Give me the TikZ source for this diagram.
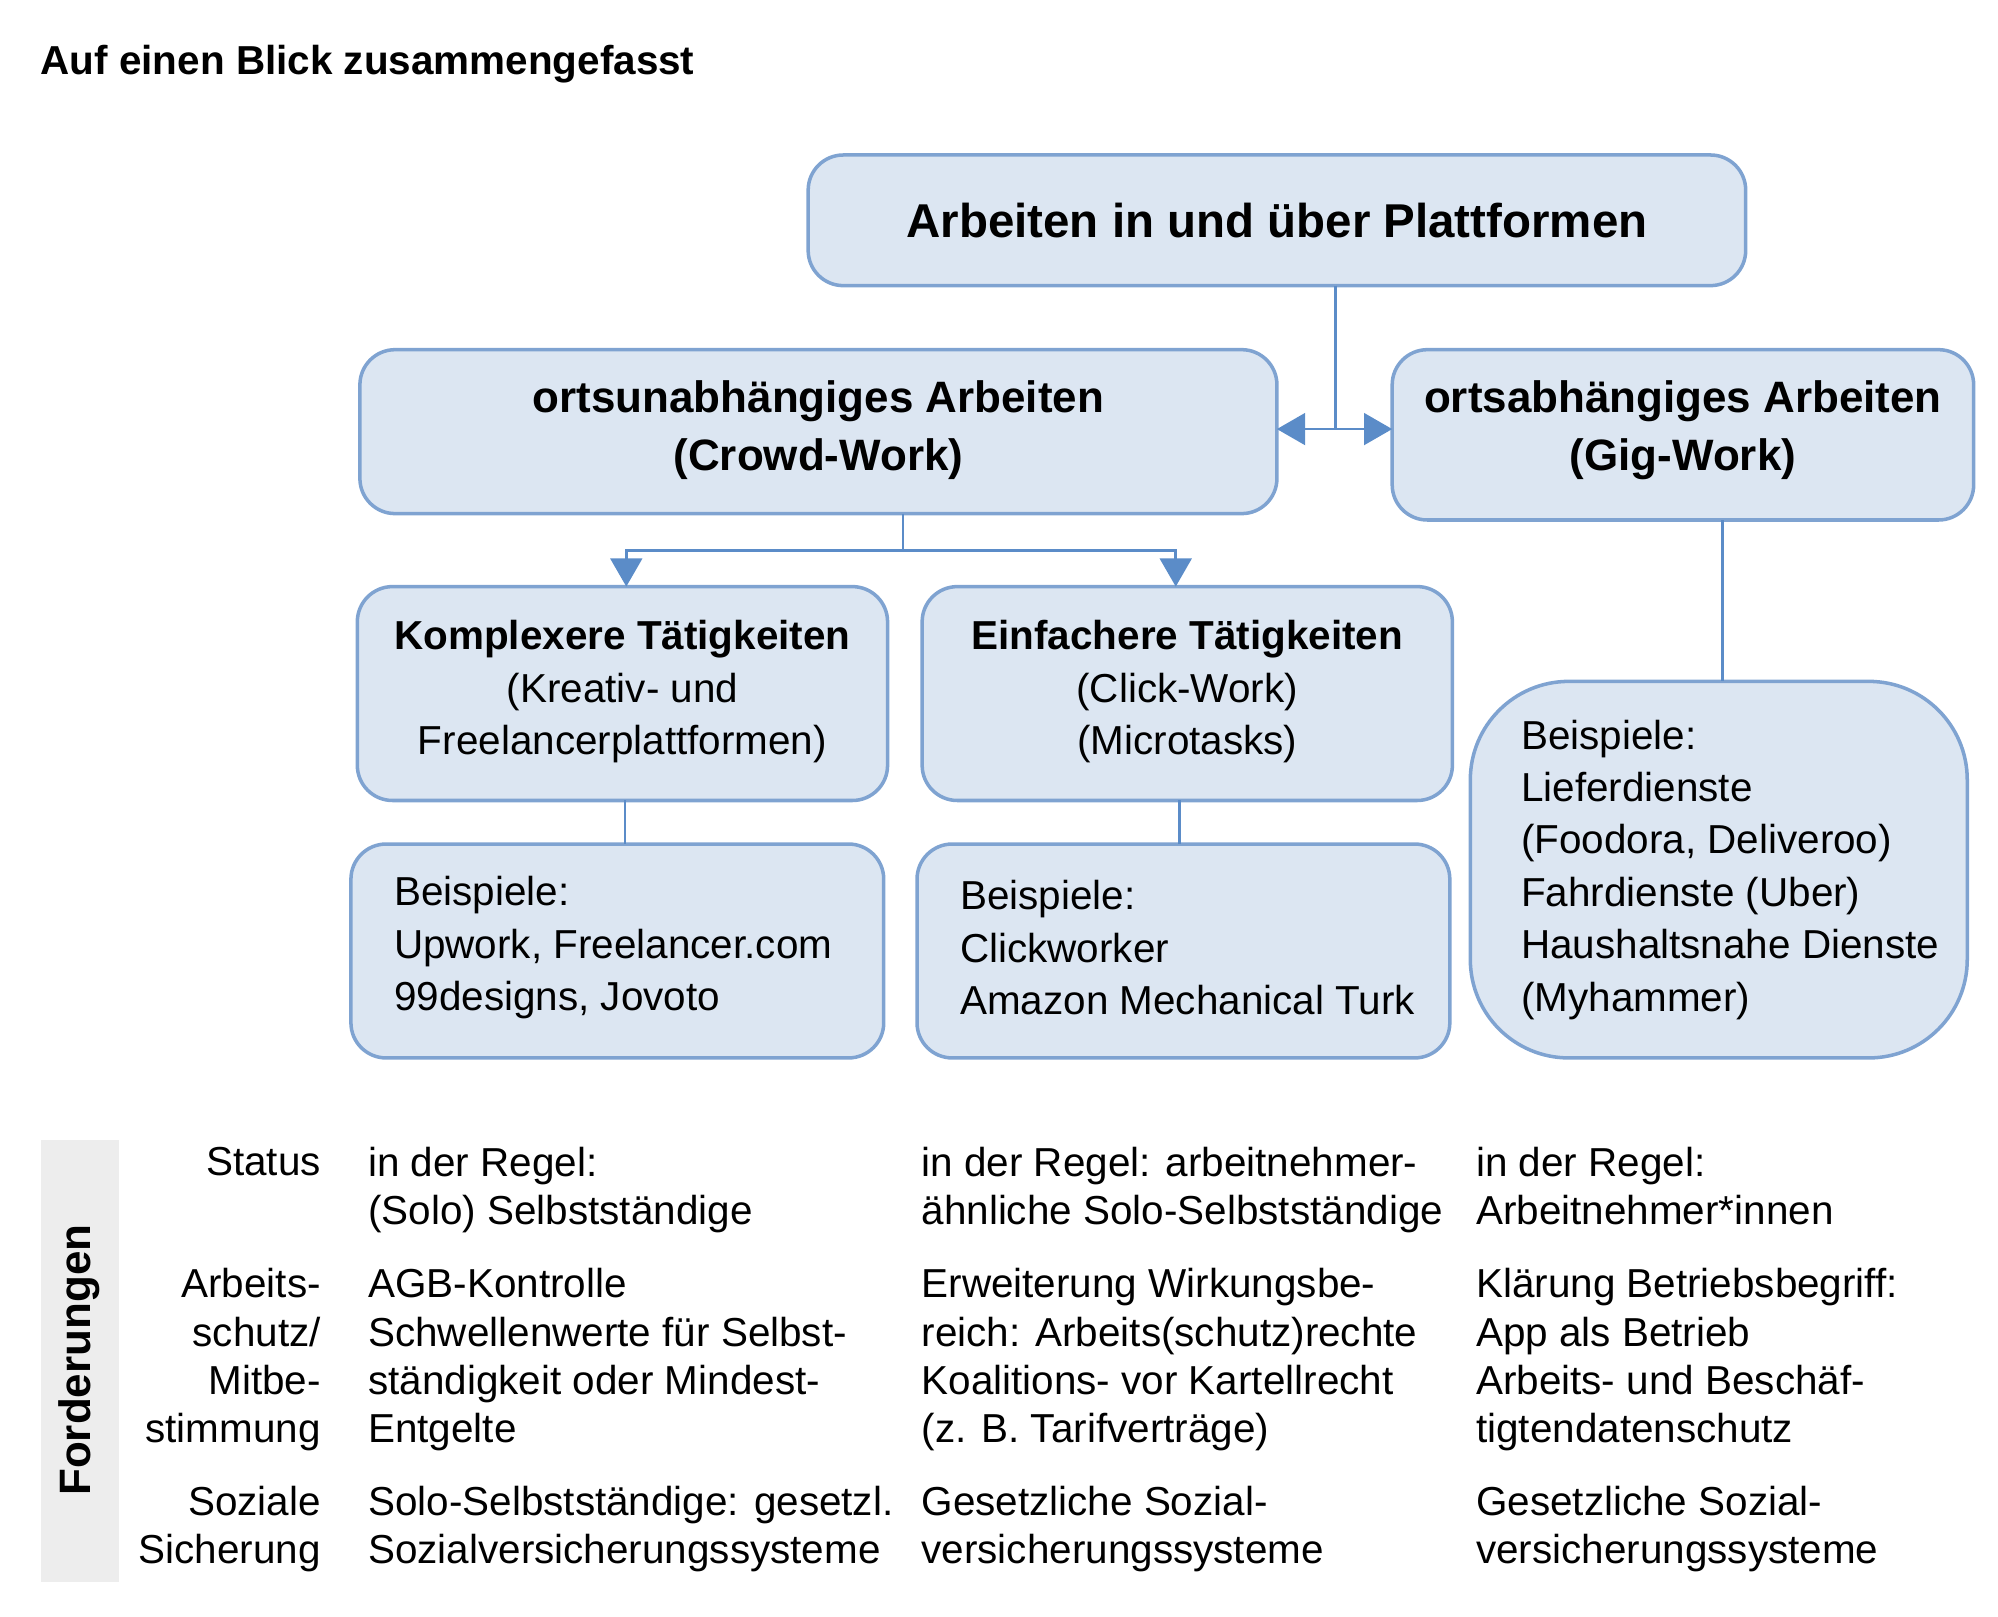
\documentclass[tikz,border=0pt]{standalone}
\usepackage{fontspec}
\setmainfont{Liberation Sans}
\usetikzlibrary{arrows.meta}
\definecolor{boxfill}{HTML}{DCE6F2}
\definecolor{boxline}{HTML}{7FA3D1}
\definecolor{linkcol}{HTML}{5B8CC8}
\tikzset{
  platbox/.style={draw=boxline, line width=1pt, fill=boxfill, rounded corners=10pt, align=center, font=\fontsize{13.5}{16}\selectfont\bfseries},
  exbox/.style={draw=boxline, line width=1pt, fill=boxfill, rounded corners=10pt, align=left, font=\fontsize{11.5}{14.9}\selectfont},
  link/.style={draw=linkcol, line width=0.8pt},
  tabtext/.style={anchor=north west, align=left, font=\fontsize{11.5}{13.7}\selectfont, inner sep=0pt},
  rowlabel/.style={anchor=north east, align=right, font=\fontsize{11.5}{13.7}\selectfont, inner sep=0pt}
}
\begin{document}
\begin{tikzpicture}[x=0.0128cm, y=-0.0128cm]
\useasboundingbox (0,0) rectangle (1560,1262);
\node[anchor=west, font=\fontsize{11.5}{14}\selectfont\bfseries] (title) at (22,50) {Auf einen Blick zusammengefasst};

\draw[platbox] (631,121) rectangle (1363,223);
\node[font=\fontsize{13.5}{16}\selectfont\bfseries] (top) at (997,172) {Arbeiten in und über Plattformen};
\draw[platbox] (281,273) rectangle (997,401);
\node[align=center, font=\fontsize{12.5}{16.5}\selectfont\bfseries] (crowd) at (639,336) {ortsunabhängiges Arbeiten\\(Crowd-Work)};
\draw[platbox] (1087,273) rectangle (1541,406);
\node[align=center, font=\fontsize{12.5}{16.5}\selectfont\bfseries] (gig) at (1314,336) {ortsabhängiges Arbeiten\\(Gig-Work)};

\draw[exbox] (279,458) rectangle (693,625);
\node[align=center, font=\fontsize{11.5}{14.9}\selectfont] (komplex) at (486,540) {\textbf{Komplexere Tätigkeiten}\\(Kreativ- und\\Freelancerplattformen)};
\draw[exbox] (720,458) rectangle (1134,625);
\node[align=center, font=\fontsize{11.5}{14.9}\selectfont] (einfach) at (927,540) {\textbf{Einfachere Tätigkeiten}\\(Click-Work)\\(Microtasks)};

\draw[exbox] (274,659) rectangle (690,826);
\node[anchor=west, align=left, font=\fontsize{11.5}{14.9}\selectfont] (bsp1) at (298,740) {Beispiele:\\Upwork, Freelancer.com\\99designs, Jovoto};
\draw[exbox] (716,659) rectangle (1132,826);
\node[anchor=west, align=left, font=\fontsize{11.5}{14.9}\selectfont] (bsp2) at (740,740) {Beispiele:\\Clickworker\\Amazon Mechanical Turk};
\draw[exbox, rounded corners=28pt] (1148,532) rectangle (1536,826);
\node[anchor=west, align=left, font=\fontsize{11.5}{14.9}\selectfont] (bsp3) at (1178,679) {Beispiele:\\Lieferdienste\\(Foodora, Deliveroo)\\Fahrdienste (Uber)\\Haushaltsnahe Dienste\\(Myhammer)};

% Verbindungen
\coordinate (j1) at (1043,335);
\coordinate (j2) at (705,430);
\draw[link] (1043,223) -- (j1);
\draw[link, -{Triangle[width=9pt,length=8pt]}] (j1) -- (997,335);
\draw[link, -{Triangle[width=9pt,length=8pt]}] (j1) -- (1087,335);
\draw[link] (705,401) -- (j2);
\draw[link, -{Triangle[width=9pt,length=8pt]}] (j2) -- (489,430) -- (489,458);
\draw[link, -{Triangle[width=9pt,length=8pt]}] (j2) -- (918,430) -- (918,458);
\draw[link] (488,625) -- (488,659);
\draw[link] (921,625) -- (921,659);
\draw[link] (1345,406) -- (1345,532);

% Forderungen
\fill[black!7] (32,890) rectangle (93,1235);
\node[rotate=90, font=\fontsize{12.5}{15}\selectfont\bfseries] (ford) at (62,1062) {Forderungen};
\node[rowlabel] (r1) at (251,895) {Status};
\node[rowlabel] (r2) at (251,990) {Arbeits-\\schutz/\\Mitbe-\\stimmung};
\node[rowlabel] (r3) at (251,1160) {Soziale\\Sicherung};

\node[tabtext] (a1) at (287,895) {in der Regel:\\(Solo) Selbstständige};
\node[tabtext] (a2) at (287,990) {AGB-Kontrolle\\Schwellenwerte für Selbst-\\ständigkeit oder Mindest-\\Entgelte};
\node[tabtext] (a3) at (287,1160) {Solo-Selbstständige: gesetzl.\\Sozialversicherungssysteme};
\node[tabtext] (b1) at (719,895) {in der Regel: arbeitnehmer-\\ähnliche Solo-Selbstständige};
\node[tabtext] (b2) at (719,990) {Erweiterung Wirkungsbe-\\reich: Arbeits(schutz)rechte\\Koalitions- vor Kartellrecht\\(z. B. Tarifverträge)};
\node[tabtext] (b3) at (719,1160) {Gesetzliche Sozial-\\versicherungssysteme};
\node[tabtext] (c1) at (1152,895) {in der Regel:\\Arbeitnehmer*innen};
\node[tabtext] (c2) at (1152,990) {Klärung Betriebsbegriff:\\App als Betrieb\\Arbeits- und Beschäf-\\tigtendatenschutz};
\node[tabtext] (c3) at (1152,1160) {Gesetzliche Sozial-\\versicherungssysteme};
\end{tikzpicture}
\end{document}
